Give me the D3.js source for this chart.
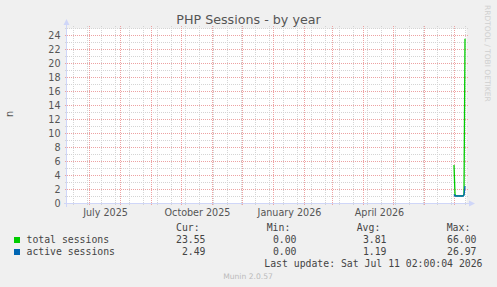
<!DOCTYPE html>
<html><head><meta charset="utf-8">
<script src="https://cdn.jsdelivr.net/npm/d3@7"></script>
<style>body{margin:0;background:#f0f0f0;} svg{display:block;}</style>
</head><body><svg id="c" width="497" height="287"></svg>
<script>
// ---- data ----
const chartTitle = "PHP Sessions - by year";
const yAxisLabel = "n";
const dates = ["2026-06-30","2026-07-01","2026-07-02","2026-07-03","2026-07-04","2026-07-05",
               "2026-07-06","2026-07-07","2026-07-08","2026-07-09","2026-07-10","2026-07-11"];
const totalSessions  = [5.5, 1.3, 1.1, 1.1, 1.1, 1.1, 1.1, 1.1, 1.1, 1.1, 1.3, 23.55];
const activeSessions = [1.3, 1.07, 1.07, 1.07, 1.07, 1.07, 1.07, 1.07, 1.07, 1.07, 1.2, 2.49];
const seriesNames  = ["total sessions", "active sessions"];
const seriesColors = ["#00cc00", "#0066b3"];
const curValues = [23.55, 2.49];
const minValues = [0.00, 0.00];
const avgValues = [3.81, 1.19];
const maxValues = [66.00, 26.97];
const legendHeaders = ["Cur:", "Min:", "Avg:", "Max:"];
const yTickValues = [0, 2, 4, 6, 8, 10, 12, 14, 16, 18, 20, 22, 24];
const xLabelDates = ["2025-07-01", "2025-10-01", "2026-01-01", "2026-04-01"];
const xLabelTexts = ["July 2025", "October 2025", "January 2026", "April 2026"];
const timeStart = "2025-06-08", timeEnd = "2026-07-13";
const minorGridStart = "2025-06-15";
const lastUpdate = "Last update: Sat Jul 11 02:00:04 2026";
const footer = "Munin 2.0.57";
const watermark = "RRDTOOL / TOBI OETIKER";

// ---- drawing ----
const svg = d3.select("#c");
const parse = s => new Date(s + "T00:00:00Z");
const L = 66.5, R = 466.5, T = 28.5, B = 203.5;
const x = d3.scaleUtc().domain([parse(timeStart), parse(timeEnd)]).range([L, R]);
const y = d3.scaleLinear().domain([0, 25]).range([B, T]);

const FONT = "DejaVu Sans, sans-serif", MONO = "DejaVu Sans Mono, monospace";
const TXT = "#555";

svg.append("rect").attr("x", L).attr("y", T).attr("width", R - L).attr("height", B - T).attr("fill", "#fff");

const grid = svg.append("g");
const minorCol = "#d4d4d4", majorCol = "#eda2a2";
const hLine = (v, col) => grid.append("line").attr("x1", 65).attr("x2", 469).attr("y1", y(v)).attr("y2", y(v))
    .attr("stroke", col).attr("stroke-dasharray", "1,1");
const vLine = (d, col) => grid.append("line").attr("x1", x(d)).attr("x2", x(d)).attr("y1", 205).attr("y2", 26)
    .attr("stroke", col).attr("stroke-dasharray", "1,1");
d3.range(1, 26, 2).forEach(v => hLine(v, minorCol));
d3.utcDay.range(parse(minorGridStart), parse(timeEnd), 14).forEach(d => vLine(d, minorCol));
yTickValues.forEach(v => hLine(v, majorCol));
d3.utcMonth.range(parse(timeStart), parse(timeEnd)).forEach(d => vLine(d, majorCol));

// y tick labels
svg.append("g").selectAll("text").data(yTickValues).join("text")
  .attr("x", 60.5).attr("y", v => y(v) + 3.3).attr("text-anchor", "end")
  .attr("font-family", FONT).attr("font-size", 9.6).attr("fill", TXT).text(v => v);

// x labels (centered mid-month)
svg.append("g").selectAll("text").data(xLabelDates).join("text")
  .attr("x", d => x(d3.utcDay.offset(parse(d), 16))).attr("y", 215.5).attr("text-anchor", "middle")
  .attr("font-family", FONT).attr("font-size", 9.6).attr("fill", TXT).text((d, i) => xLabelTexts[i]);

// series lines
const line = d3.line().x(d => x(new Date(d.date + "T12:00:00Z"))).y(d => y(d.v));
[totalSessions, activeSessions].forEach((vals, i) => {
  svg.append("path").datum(dates.map((d, j) => ({date: d, v: vals[j]})))
    .attr("d", line).attr("fill", "none").attr("stroke", seriesColors[i]).attr("stroke-width", 1.3);
});

// axes
const axCol = "#cfd6f8";
svg.append("line").attr("x1", L).attr("x2", L).attr("y1", B + 3).attr("y2", 22)
  .attr("stroke", axCol).attr("shape-rendering", "crispEdges");
svg.append("line").attr("x1", L - 3).attr("x2", 471).attr("y1", B).attr("y2", B)
  .attr("stroke", axCol).attr("shape-rendering", "crispEdges");
svg.append("path").attr("d", `M${L - 3},${25} L${L + 3},${25} L${L},${19} Z`).attr("fill", axCol);
svg.append("path").attr("d", `M${469},${B - 3} L${469},${B + 3} L${475},${B} Z`).attr("fill", axCol);

// title
svg.append("text").attr("x", 248.5).attr("y", 24).attr("text-anchor", "middle")
  .attr("font-family", FONT).attr("font-size", 12.7).attr("fill", TXT).text(chartTitle);
// y label
svg.append("text").attr("transform", "translate(13.3,114) rotate(-90)").attr("text-anchor", "middle")
  .attr("font-family", FONT).attr("font-size", 9.6).attr("fill", TXT).text(yAxisLabel);
// watermark
svg.append("text").attr("transform", "translate(485,5) rotate(90)")
  .attr("font-family", FONT).attr("font-size", 7.5).attr("fill", "#cfcfcf").text(watermark);

// legend
const colRight = [205.5, 296.5, 386.5, 476.5];
const headLeft = [176, 266.7, 356.7, 446.7];
const lg = svg.append("g").attr("font-family", MONO).attr("font-size", 9.8).attr("fill", "#444");
legendHeaders.forEach((h, i) => lg.append("text").attr("x", headLeft[i]).attr("y", 231).text(h));
const cols = [curValues, minValues, avgValues, maxValues];
seriesNames.forEach((n, i) => {
  const yy = 243 + i * 12;
  svg.append("rect").attr("x", 14).attr("y", yy - 6).attr("width", 6).attr("height", 6).attr("fill", seriesColors[i]);
  lg.append("text").attr("x", 26.5).attr("y", yy).text(n);
  cols.forEach((c, k) => lg.append("text").attr("x", colRight[k]).attr("y", yy)
    .attr("text-anchor", "end").text(c[i].toFixed(2)));
});
lg.append("text").attr("x", 482.5).attr("y", 267).attr("text-anchor", "end").text(lastUpdate);
svg.append("text").attr("x", 248).attr("y", 278.5).attr("text-anchor", "middle")
  .attr("font-family", FONT).attr("font-size", 7.6).attr("fill", "#bbb").text(footer);
</script>
</body></html>
